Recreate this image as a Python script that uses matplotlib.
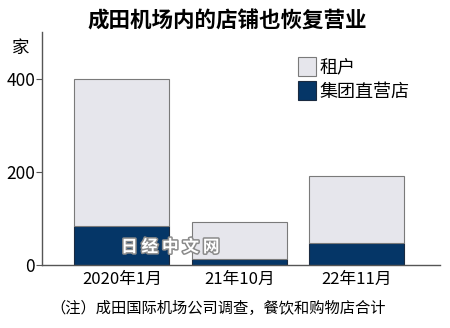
import matplotlib.pyplot as plt
import matplotlib.patheffects as pe

plt.rcParams['font.family'] = ['Noto Sans CJK SC', 'DejaVu Sans']

# 数据：各时期店铺数量（家）
periods = ['2020年1月', '21年10月', '22年11月']
total_shops = [400, 93, 191]
direct_shops = [84, 14, 48]
tenant_shops = [t - d for t, d in zip(total_shops, direct_shops)]

fig = plt.figure(figsize=(4.5, 3.28), dpi=100)
ax = fig.add_axes([0.0933, 0.192, 0.885, 0.71])

x = range(len(periods))
ax.bar(x, direct_shops, width=0.81, color='#053667', edgecolor='#1a2a40',
       linewidth=0.8, label='集团直营店')
ax.bar(x, tenant_shops, bottom=direct_shops, width=0.81, color='#e6e6ec',
       edgecolor='#7a7a7a', linewidth=0.8, label='租户')

ax.set_xlim(-0.68, 2.71)
ax.set_ylim(0, 500)
ax.set_yticks([0, 200, 400])
ax.set_xticks(list(x))
ax.set_xticklabels(periods, fontsize=12)
ax.tick_params(axis='y', labelsize=12.5, length=4, color='#555555', pad=1)
ax.tick_params(axis='x', length=0, pad=4)
for side in ['top', 'right']:
    ax.spines[side].set_visible(False)
for side in ['left', 'bottom']:
    ax.spines[side].set_color('#555555')
    ax.spines[side].set_linewidth(1.0)

# 图例（租户在上）
handles, labels = ax.get_legend_handles_labels()
ax.legend(handles[::-1], labels[::-1], loc='upper left',
          bbox_to_anchor=(0.62, 0.93), frameon=False, fontsize=13,
          handlelength=1.0, handleheight=1.2, handletextpad=0.2,
          labelspacing=0.25, borderpad=0)

fig.text(0.506, 0.935, '成田机场内的店铺也恢复营业', ha='center', va='center',
         fontsize=15.5, fontweight='bold')
fig.text(0.045, 0.855, '家', ha='center', va='center', fontsize=12.5)
fig.text(0.485, 0.06, '（注）成田国际机场公司调查，餐饮和购物店合计',
         ha='center', va='center', fontsize=11)

# 水印
fig.text(0.378, 0.247, '日 经 中 文 网', ha='center', va='center', fontsize=12,
         fontweight='bold', color='white',
         path_effects=[pe.withStroke(linewidth=2.2, foreground='#8a8a8a')])

fig.savefig('out.png', dpi=100)
